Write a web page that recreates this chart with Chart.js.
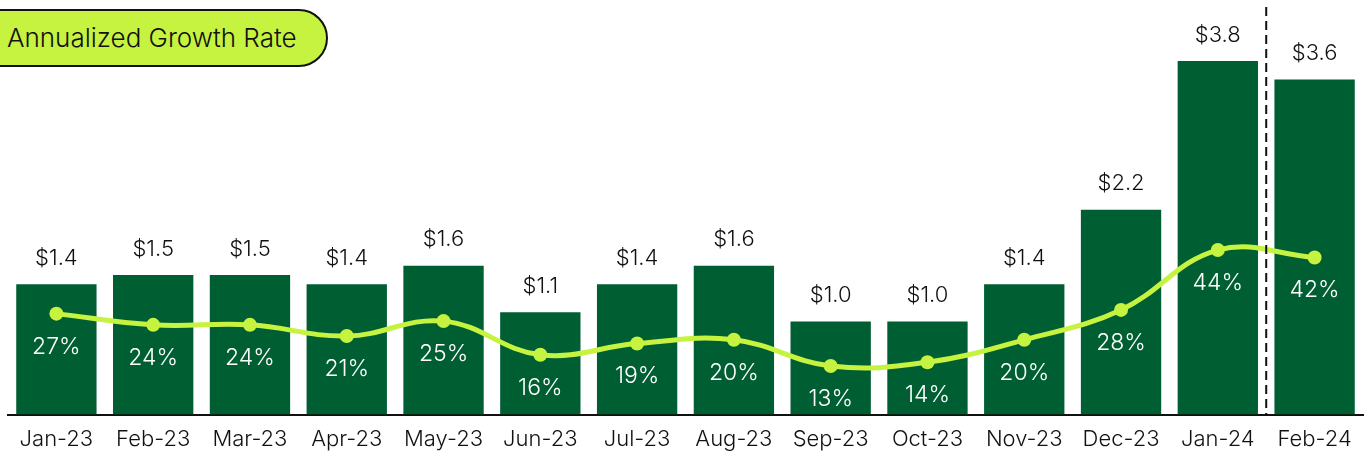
<!DOCTYPE html>
<html>
<head>
<meta charset="utf-8">
<script src="https://cdn.jsdelivr.net/npm/chart.js@4.4.1/dist/chart.umd.min.js"></script>
<style>
  html, body { margin: 0; padding: 0; background: #fff; overflow: hidden; }
  #wrap { position: relative; width: 1370px; height: 456px; overflow: hidden; }
  #legend {
    position: absolute; left: -30px; top: 9px; height: 54px; width: 319px;
    background: #c6f33f; border: 2px solid #111; border-radius: 29px;
    font: 300 26px Inter, "Noto Sans", sans-serif; color: #111;
    line-height: 54px; padding-left: 35px; box-sizing: content-box;
  }
</style>
</head>
<body>
<div id="wrap">
  <canvas id="chart" width="1370" height="469"></canvas>
  <div id="legend">Annualized Growth Rate</div>
</div>
<script>
// categories and values
const months = ["Jan-23", "Feb-23", "Mar-23", "Apr-23", "May-23", "Jun-23", "Jul-23",
  "Aug-23", "Sep-23", "Oct-23", "Nov-23", "Dec-23", "Jan-24", "Feb-24"];
const revenue = [1.4, 1.5, 1.5, 1.4, 1.6, 1.1, 1.4, 1.6, 1.0, 1.0, 1.4, 2.2, 3.8, 3.6];
const growth = [27, 24, 24, 21, 25, 16, 19, 20, 13, 14, 20, 28, 44, 42];

const BAR = "#005e33";
const LIME = "#c6f33f";
const FONT = "Inter, 'Noto Sans', sans-serif";

// value labels above bars, percentages under line points, dashed split
const labelsPlugin = {
  id: "labels",
  afterDatasetsDraw(chart) {
    const ctx = chart.ctx;
    const area = chart.chartArea;
    const x = chart.scales.x;

    // dashed divider between Jan-24 and Feb-24
    const xs = (x.getPixelForValue(12) + x.getPixelForValue(13)) / 2;
    ctx.save();
    ctx.strokeStyle = "#111";
    ctx.lineWidth = 2;
    ctx.setLineDash([9, 5]);
    ctx.beginPath();
    ctx.moveTo(xs, area.top);
    ctx.lineTo(xs, area.bottom);
    ctx.stroke();
    ctx.restore();

    ctx.save();
    ctx.textAlign = "center";
    ctx.textBaseline = "middle";
    ctx.font = "300 22px " + FONT;
    const bars = chart.getDatasetMeta(1).data;
    bars.forEach((b, i) => {
      ctx.fillStyle = "#111";
      ctx.fillText("$" + revenue[i].toFixed(1), b.x, b.y - 26);
    });
    ctx.font = "300 23px " + FONT;
    const pts = chart.getDatasetMeta(0).data;
    pts.forEach((p, i) => {
      ctx.fillStyle = "#fff";
      ctx.fillText(growth[i] + "%", p.x, p.y + 33);
    });
    ctx.restore();
  }
};

new Chart(document.getElementById("chart"), {
  data: {
    labels: months,
    datasets: [
      {
        type: "line",
        label: "Annualized Growth Rate",
        data: growth,
        yAxisID: "y2",
        borderColor: LIME,
        backgroundColor: LIME,
        borderWidth: 5,
        pointRadius: 7,
        pointBackgroundColor: LIME,
        pointBorderWidth: 0,
        tension: 0.4,
        order: 0,
      },
      {
        type: "bar",
        label: "Revenue",
        data: revenue,
        yAxisID: "y",
        backgroundColor: BAR,
        barPercentage: 0.83,
        categoryPercentage: 1,
        order: 1,
      },
    ],
  },
  options: {
    responsive: false,
    animation: false,
    layout: { padding: { left: 8, right: 0, top: 0, bottom: 4 } },
    plugins: { legend: { display: false }, tooltip: { enabled: false } },
    scales: {
      x: {
        grid: { display: false, drawTicks: false },
        border: { display: true, color: "#111", width: 2 },
        ticks: { color: "#111", font: { family: FONT, size: 22, weight: 300 }, padding: 12, maxRotation: 0, autoSkip: false },
      },
      y: { display: false, min: 0, max: 4.38 },
      y2: { display: false, min: 0, max: 109 },
    },
  },
  plugins: [labelsPlugin],
});
</script>
</body>
</html>
